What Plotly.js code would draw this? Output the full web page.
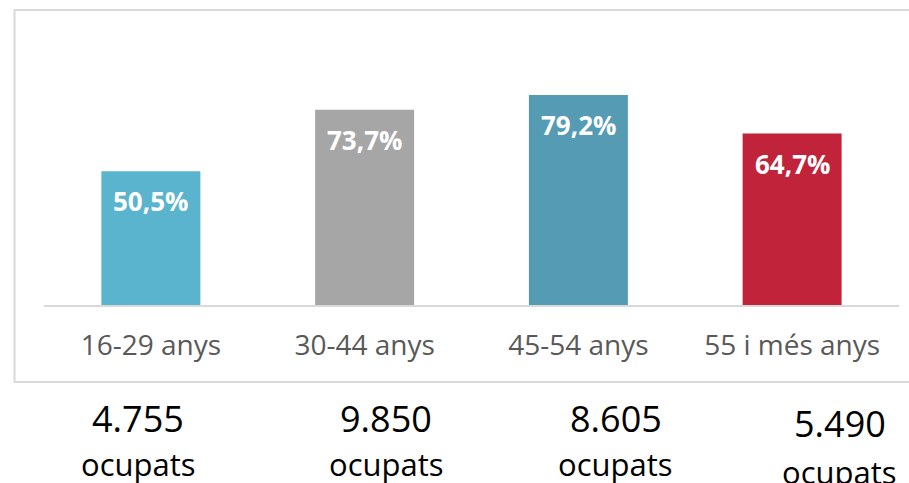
<!DOCTYPE html>
<html>
<head>
<meta charset="utf-8">
<script src="https://cdn.plot.ly/plotly-3.0.1.min.js"></script>
<style>
html,body{margin:0;padding:0;background:#fff;}
#chart{width:909px;height:483px;}
</style>
</head>
<body>
<div id="chart"></div>
<script>
var categories = ['16-29 anys', '30-44 anys', '45-54 anys', '55 i més anys'];
var values = [50.5, 73.7, 79.2, 64.7];
var barColors = ['#5AB4CD', '#A6A6A6', '#559BB4', '#C0233A'];
var occupied = ['4.755', '9.850', '8.605', '5.490'];
var occupiedLabel = 'ocupats';

var L = 43.5, W = 856, T = 40, H = 265;
function px(x){ return (x - L) / W; }
function py(y){ return (T + H - y) / H; }

var annotations = [];
values.forEach(function(v, i){
  annotations.push({
    x: categories[i], y: v, xref: 'x', yref: 'y',
    text: v.toFixed(1).replace('.', ',') + '%',
    showarrow: false, yanchor: 'middle', yshift: -30,
    font: {family: 'Open Sans', size: 26, color: '#ffffff', weight: 'bold'}
  });
});
var numX = [138, 386, 616, 840];
var numY = [418, 418, 418, 423];
var labY = [464, 464, 464, 472];
occupied.forEach(function(o, i){
  annotations.push({
    x: px(numX[i]), y: py(numY[i]), xref: 'paper', yref: 'paper',
    text: o, showarrow: false, xanchor: 'center', yanchor: 'middle',
    font: {family: 'Open Sans', size: 36, color: '#000000'}
  });
  annotations.push({
    x: px(numX[i]), y: py(labY[i]), xref: 'paper', yref: 'paper',
    text: occupiedLabel, showarrow: false, xanchor: 'center', yanchor: 'middle',
    font: {family: 'Open Sans', size: 31, color: '#000000'}
  });
});

var data = [{
  type: 'bar',
  x: categories,
  y: values,
  marker: {color: barColors},
  width: 0.463,
  hoverinfo: 'none'
}];

var layout = {
  width: 909, height: 483,
  margin: {l: L, r: 909 - L - W, t: T, b: 483 - T - H, pad: 0},
  paper_bgcolor: '#ffffff', plot_bgcolor: '#ffffff',
  showlegend: false,
  xaxis: {
    type: 'category', showline: true, linecolor: '#D9D9D9', linewidth: 2,
    ticks: '', showgrid: false, zeroline: false,
    tickfont: {family: 'Open Sans', size: 28, color: '#595959'},
    ticklabelstandoff: 14
  },
  yaxis: {
    range: [0, 100], visible: false, showgrid: false, zeroline: false
  },
  shapes: [{
    type: 'rect', xref: 'paper', yref: 'paper',
    x0: px(14), x1: px(915), y0: py(382), y1: py(10),
    line: {color: '#D9D9D9', width: 2}, fillcolor: 'rgba(0,0,0,0)', layer: 'below'
  }],
  annotations: annotations
};

Plotly.newPlot('chart', data, layout, {displayModeBar: false, staticPlot: true});
</script>
</body>
</html>
